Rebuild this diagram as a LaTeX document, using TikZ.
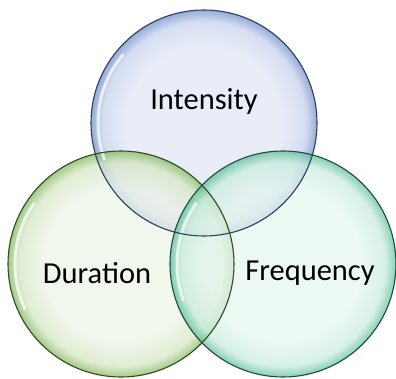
\documentclass[tikz,border=0pt]{standalone}
\usepackage{fontspec}
\setmainfont{Carlito}
\definecolor{bluein}{RGB}{224,230,245}
\definecolor{bluemid}{RGB}{196,208,236}
\definecolor{blueout}{RGB}{110,140,200}
\definecolor{blueline}{RGB}{45,62,100}
\definecolor{greenin}{RGB}{237,244,230}
\definecolor{greenmid}{RGB}{212,230,194}
\definecolor{greenout}{RGB}{130,182,90}
\definecolor{greenline}{RGB}{45,75,30}
\definecolor{tealin}{RGB}{229,246,239}
\definecolor{tealmid}{RGB}{200,236,222}
\definecolor{tealout}{RGB}{90,190,152}
\definecolor{tealline}{RGB}{30,75,58}
\pgfdeclareradialshading{bubbleblue}{\pgfpoint{0bp}{0bp}}{color(0bp)=(bluein); color(17bp)=(bluein); color(22.5bp)=(bluemid); color(25bp)=(blueout); color(50bp)=(blueout)}
\pgfdeclareradialshading{bubblegreen}{\pgfpoint{0bp}{0bp}}{color(0bp)=(greenin); color(17bp)=(greenin); color(22.5bp)=(greenmid); color(25bp)=(greenout); color(50bp)=(greenout)}
\pgfdeclareradialshading{bubbleteal}{\pgfpoint{0bp}{0bp}}{color(0bp)=(tealin); color(17bp)=(tealin); color(22.5bp)=(tealmid); color(25bp)=(tealout); color(50bp)=(tealout)}
\tikzset{
  bubble/.style={circle, minimum size=226pt, inner sep=0pt, fill opacity=0.72},
  rim/.style={circle, minimum size=226pt, inner sep=0pt, line width=1.1pt},
  label/.style={font=\fontsize{30.5}{34}\selectfont, text=black, inner sep=0pt},
  gloss/.style={white, line width=3pt, opacity=0.7, line cap=round}
}
\begin{document}
\begin{tikzpicture}[x=1pt,y=1pt]
\useasboundingbox (0,0) rectangle (396,378);
\node[bubble, shade, shading=bubbleblue] (int) at (204,255) {};
\node[bubble, shade, shading=bubblegreen] (dur) at (121,114) {};
\node[bubble, shade, shading=bubbleteal] (fre) at (283,114) {};
\draw[gloss] (int) ++(140:106) arc[start angle=140, end angle=200, radius=106];
\draw[gloss] (dur) ++(145:106) arc[start angle=145, end angle=205, radius=106];
\draw[gloss] (fre) ++(145:106) arc[start angle=145, end angle=200, radius=106];
\node[rim, draw=blueline] (intrim) at (int) {};
\node[rim, draw=greenline] (durrim) at (dur) {};
\node[rim, draw=tealline] (frerim) at (fre) {};
\node[label] (tint) at (204,277) {Intensity};
\node[label] (tdur) at (97,105) {Duration};
\node[label] (tfre) at (310,105) {Frequency};
\end{tikzpicture}
\end{document}
